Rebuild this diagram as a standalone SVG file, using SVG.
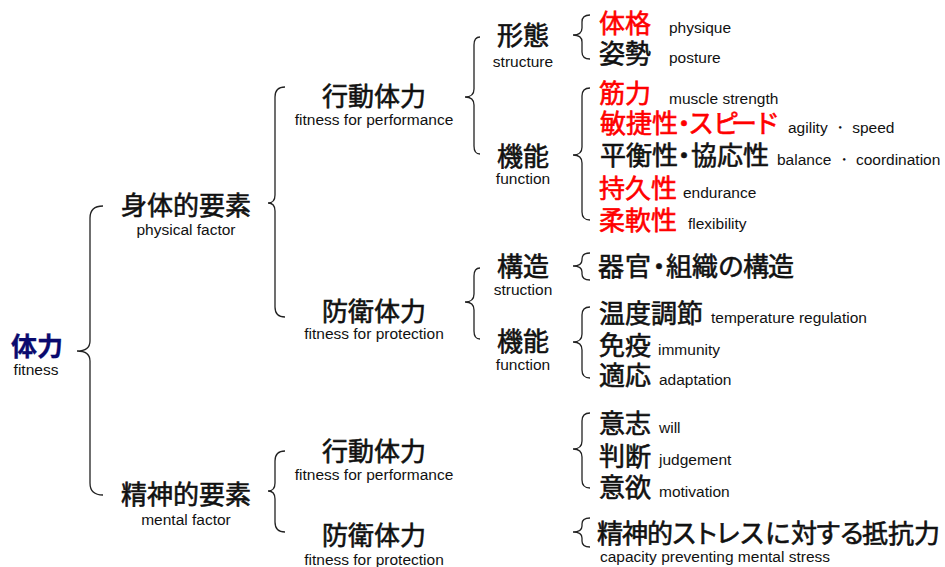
<svg xmlns="http://www.w3.org/2000/svg" width="945" height="567" viewBox="0 0 945 567">
<style>
.jp{font-family:"Noto Sans CJK JP","Noto Sans CJK SC",sans-serif;font-size:26px;fill:#111;stroke:#111;stroke-width:0.6}
.en{font-family:"Liberation Sans",Arial,sans-serif;font-size:15.5px;fill:#111}
.c{text-anchor:middle}
.red{fill:#ff0000;stroke:#ff0000}
.navy{fill:#0a0a6e;stroke:#0a0a6e;stroke-width:0.3;font-weight:bold}
.brace{fill:none;stroke:#222;stroke-width:1.3}
</style>
<rect width="945" height="567" fill="#fff"/>
<g id="connectors">
<path class="brace" d="M103,206 Q90,206 90,218 L90,341 Q90,351 77,351 Q90,351 90,361 L90,483 Q90,495 103,495"/>
<path class="brace" d="M285,87 Q275,87 275,97 L275,195 Q275,203 268,203 Q275,203 275,211 L275,307 Q275,317 285,317"/>
<path class="brace" d="M285,451 Q275,451 275,461 L275,483 Q275,491 268,491 Q275,491 275,499 L275,522 Q275,532 285,532"/>
<path class="brace" d="M480,37 Q474,37 474,45 L474,89 Q474,97 465,97 Q474,97 474,105 L474,146 Q474,154 480,154"/>
<path class="brace" d="M480,268 Q474,268 474,276 L474,294 Q474,302 465,302 Q474,302 474,310 L474,331 Q474,339 480,339"/>
<path class="brace" d="M590,15 Q582,15 582,22 L582,28 Q582,35 573,35 Q582,35 582,42 L582,52 Q582,59 590,59"/>
<path class="brace" d="M590,88 Q582,88 582,96 L582,147 Q582,155 573,155 Q582,155 582,163 L582,212 Q582,220 590,220"/>
<path class="brace" d="M590,253 Q582,253 582,259 L582,260 Q582,266 573,266 Q582,266 582,272 L582,274 Q582,280 590,280"/>
<path class="brace" d="M590,307 Q582,307 582,315 L582,334 Q582,342 573,342 Q582,342 582,350 L582,370 Q582,378 590,378"/>
<path class="brace" d="M590,413 Q582,413 582,421 L582,441 Q582,449 573,449 Q582,449 582,457 L582,480 Q582,488 590,488"/>
<path class="brace" d="M590,518 Q582,518 582,524 L582,526 Q582,532 573,532 Q582,532 582,538 L582,541 Q582,547 590,547"/>
</g>
<g id="n-fitness">
<text class="jp c navy" x="37" y="356">体力</text>
<text class="en c" x="36" y="375">fitness</text>
</g>
<g id="n-physical">
<text class="jp c" x="186" y="215">身体的要素</text>
<text class="en c" x="186" y="235">physical factor</text>
</g>
<g id="n-mental">
<text class="jp c" x="186" y="504">精神的要素</text>
<text class="en c" x="186" y="525">mental factor</text>
</g>
<g id="n-phys-perf">
<text class="jp c" x="374" y="106">行動体力</text>
<text class="en c" x="374" y="125">fitness for performance</text>
</g>
<g id="n-phys-prot">
<text class="jp c" x="374" y="321">防衛体力</text>
<text class="en c" x="374" y="339">fitness for protection</text>
</g>
<g id="n-ment-perf">
<text class="jp c" x="374" y="461">行動体力</text>
<text class="en c" x="374" y="480">fitness for performance</text>
</g>
<g id="n-ment-prot">
<text class="jp c" x="374" y="545">防衛体力</text>
<text class="en c" x="374" y="565">fitness for protection</text>
</g>
<g id="n-structure">
<text class="jp c" x="523" y="45">形態</text>
<text class="en c" x="523" y="67">structure</text>
</g>
<g id="n-function1">
<text class="jp c" x="523" y="166">機能</text>
<text class="en c" x="523" y="184">function</text>
</g>
<g id="n-struction">
<text class="jp c" x="523" y="276">構造</text>
<text class="en c" x="523" y="295">struction</text>
</g>
<g id="n-function2">
<text class="jp c" x="523" y="351">機能</text>
<text class="en c" x="523" y="370">function</text>
</g>
<g id="n-physique">
<text class="jp red" x="599" y="33">体格</text>
<text class="en" x="669" y="33">physique</text>
</g>
<g id="n-posture">
<text class="jp" x="599" y="63">姿勢</text>
<text class="en" x="669" y="63">posture</text>
</g>
<g id="n-muscle">
<text class="jp red" x="599" y="103">筋力</text>
<text class="en" x="669" y="104">muscle strength</text>
</g>
<g id="n-agility">
<text class="jp red" x="600 626 652 671 688 713 731 754" y="133">敏捷性・スピード</text>
<text class="en" x="788" y="133">agility ・ speed</text>
</g>
<g id="n-balance">
<text class="jp" x="600 626 652 671 691 717 743" y="165">平衡性・協応性</text>
<text class="en" x="777" y="165">balance ・ coordination</text>
</g>
<g id="n-endurance">
<text class="jp red" x="599" y="198">持久性</text>
<text class="en" x="683" y="198">endurance</text>
</g>
<g id="n-flexibility">
<text class="jp red" x="599" y="230">柔軟性</text>
<text class="en" x="688" y="229">flexibility</text>
</g>
<g id="n-organ">
<text class="jp" x="598 625 646 666 692 718 743 768" y="276">器官・組織の構造</text>
</g>
<g id="n-temp">
<text class="jp" x="599" y="323">温度調節</text>
<text class="en" x="711" y="323">temperature regulation</text>
</g>
<g id="n-immunity">
<text class="jp" x="599" y="355">免疫</text>
<text class="en" x="658" y="355">immunity</text>
</g>
<g id="n-adaptation">
<text class="jp" x="599" y="385">適応</text>
<text class="en" x="659" y="385">adaptation</text>
</g>
<g id="n-will">
<text class="jp" x="599" y="433">意志</text>
<text class="en" x="659" y="433">will</text>
</g>
<g id="n-judgement">
<text class="jp" x="599" y="466">判断</text>
<text class="en" x="659" y="465">judgement</text>
</g>
<g id="n-motivation">
<text class="jp" x="599" y="497">意欲</text>
<text class="en" x="659" y="497">motivation</text>
</g>
<g id="n-stress">
<text class="jp" x="597 622 647 671 693 715 739 765 791 815 839 862 888 914" y="543">精神的ストレスに対する抵抗力</text>
<text class="en" x="600" y="562">capacity preventing mental stress</text>
</g>
</svg>
